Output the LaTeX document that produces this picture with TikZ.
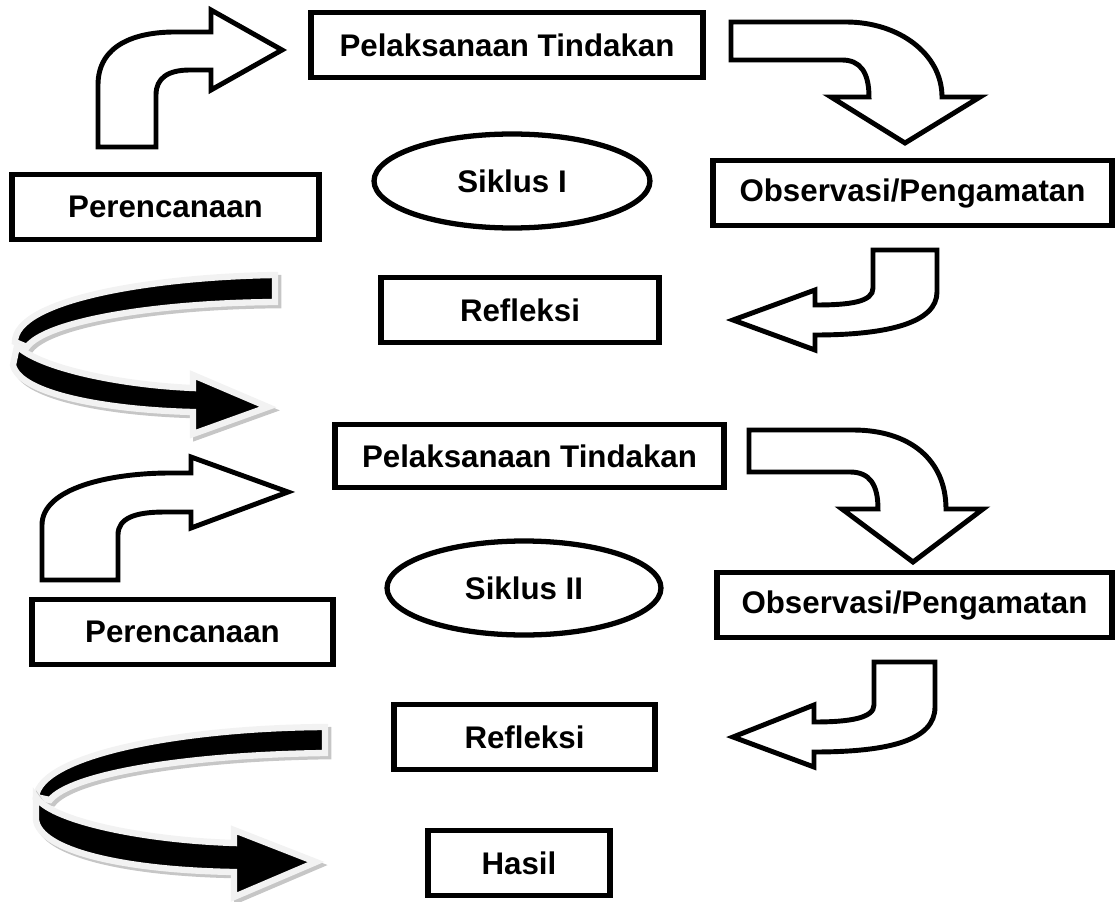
\documentclass[tikz,border=0pt]{standalone}
\usepackage{fontspec}
\setmainfont{Liberation Sans}
\usetikzlibrary{shapes.geometric}

\begin{document}
\begin{tikzpicture}[x=0.02cm, y=-0.02cm,
    box/.style = {draw, line width=3pt, minimum height=1.3cm, inner sep=0pt, font=\fontsize{17.8}{20}\selectfont\bfseries},
    siklus/.style = {box, ellipse, minimum height=1.88cm},
    hollow/.style = {draw, fill=white, line width=2.8pt},
    ribbon/.style = {fill=black, draw=gray!10, line width=3.6pt, preaction={draw=gray!45, fill=gray!45, line width=3.6pt, transform canvas={xshift=1.8pt, yshift=-1.8pt}}}]

    \useasboundingbox (0,0) rectangle (1119,902);

    % siklus I
    \node[box, minimum width=7.84cm] (act1) at (507,45) {Pelaksanaan Tindakan};
    \node[box, minimum width=6.14cm] (plan1) at (165.5,207) {Perencanaan};
    \node[siklus, minimum width=5.52cm] (cyc1) at (512,181) {Siklus I};
    \node[box, minimum width=7.98cm] (obs1) at (912.5,193) {Observasi/Pengamatan};
    \node[box, minimum width=5.56cm] (refl1) at (520,310) {Refleksi};

    % siklus II
    \node[box, minimum width=7.78cm, minimum height=1.26cm] (act2) at (529.5,456) {Pelaksanaan Tindakan};
    \node[box, minimum width=6.02cm] (plan2) at (182.5,632) {Perencanaan};
    \node[siklus, minimum width=5.48cm] (cyc2) at (524,588) {Siklus II};
    \node[box, minimum width=7.9cm] (obs2) at (914.5,605) {Observasi/Pengamatan};
    \node[box, minimum width=5.22cm] (refl2) at (524.5,737) {Refleksi};
    \node[box, minimum width=3.64cm] (result) at (519,863) {Hasil};

    % block arrows siklus I
    \draw[hollow] (98,147) -- (98,85) .. controls (98,45) and (135,32) .. (175,32) -- (211,32) -- (211,10) -- (282,50) -- (211,90) -- (211,70) -- (190,70) .. controls (168,70) and (156,78) .. (156,95) -- (156,147) -- cycle;
    \draw[hollow] (731,22) -- (846,22) .. controls (899,22) and (942,54) .. (942,97) -- (980,97) -- (905,143) -- (831,97) -- (869,97) .. controls (869,72) and (860,60) .. (842,60) -- (731,60) -- cycle;
    \draw[hollow] (873,250) -- (937,250) -- (937,292) .. controls (937,322) and (890,335) .. (815,335) -- (815,350) -- (733,320) -- (815,290) -- (815,305) .. controls (850,305) and (873,302) .. (873,288) -- cycle;
    \draw[ribbon] (275,275) .. controls (150,277) and (15,300) .. (15,342) -- (27,347) .. controls (45,322) and (150,303) .. (275,302) -- cycle;
    \draw[ribbon] (17,346) .. controls (40,368) and (120,385) .. (193,388) -- (193,375) -- (268,407) -- (193,434) -- (193,412) .. controls (110,410) and (20,395) .. (13,365) -- cycle;

    % block arrows siklus II
    \draw[hollow] (42,580) -- (42,525) .. controls (42,488) and (110,473) .. (170,473) -- (191,473) -- (191,457) -- (288,492) -- (191,528) -- (191,512) -- (165,512) .. controls (135,512) and (118,518) .. (118,535) -- (118,580) -- cycle;
    \draw[hollow] (749,430) -- (853,430) .. controls (910,430) and (946,460) .. (946,509) -- (983,509) -- (913,562) -- (842,509) -- (878,509) .. controls (878,485) and (870,472) .. (850,472) -- (749,472) -- cycle;
    \draw[hollow] (874,662) -- (935,662) -- (935,707) .. controls (935,740) and (890,752) .. (814,752) -- (814,767) -- (733,737) -- (814,705) -- (814,722) .. controls (850,722) and (874,718) .. (874,705) -- cycle;
    \draw[ribbon] (325,727) .. controls (180,728) and (40,755) .. (36,797) -- (50,800) .. controls (70,775) and (180,755) .. (325,753) -- cycle;
    \draw[ribbon] (36,797) .. controls (50,820) and (140,840) .. (234,843) -- (234,830) -- (316,862) -- (234,897) -- (234,872) .. controls (120,870) and (40,850) .. (36,820) -- cycle;

\end{tikzpicture}
\end{document}
